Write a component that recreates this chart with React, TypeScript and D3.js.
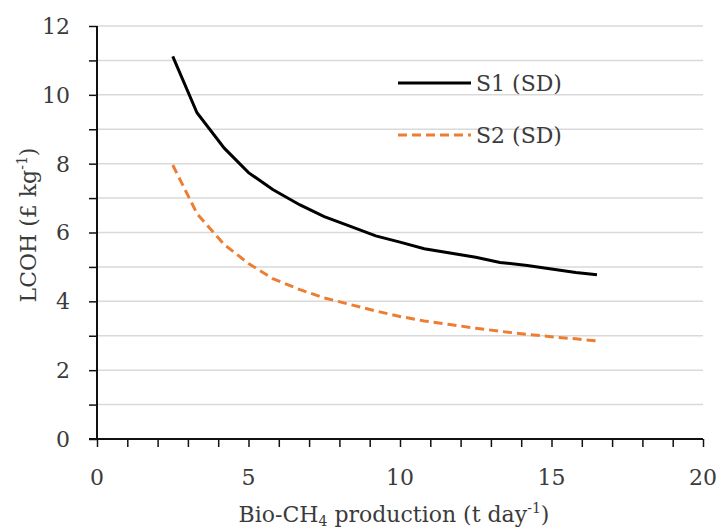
import React, { useEffect, useRef } from 'react';
import * as d3 from 'd3';

// Bio-CH4 production (t/day)
const production = [2.5, 3.3, 4.2, 5.0, 5.8, 6.7, 7.5, 8.3, 9.2, 10.0, 10.8, 11.7, 12.5, 13.3, 14.2, 15.0, 15.8, 16.5];
// LCOH (GBP/kg)
const s1Values = [11.12, 9.48, 8.45, 7.74, 7.25, 6.8, 6.46, 6.2, 5.9, 5.72, 5.53, 5.4, 5.28, 5.13, 5.04, 4.94, 4.84, 4.77];
const s2Values = [7.96, 6.55, 5.65, 5.1, 4.66, 4.34, 4.1, 3.92, 3.72, 3.56, 3.43, 3.32, 3.22, 3.13, 3.04, 2.97, 2.91, 2.85];

const seriesNames = ['S1 (SD)', 'S2 (SD)'];
const xTicks = [0, 5, 10, 15, 20];
const yTicks = [0, 2, 4, 6, 8, 10, 12];

const FONT = '"DejaVu Serif", serif';
const TEXT = '#3b3b3b';
const FS = 22;

const App = () => {
    const svgRef = useRef<SVGSVGElement>(null);

    useEffect(() => {
        const svgWidth = 720;
        const svgHeight = 531;
        const margin = { top: 26, right: 17, bottom: 92, left: 97 };
        const width = svgWidth - margin.left - margin.right;
        const height = svgHeight - margin.top - margin.bottom;

        const svg = d3.select(svgRef.current)
            .attr('width', svgWidth)
            .attr('height', svgHeight);
        svg.selectAll('*').remove();

        const x = d3.scaleLinear().domain([0, 20]).range([0, width]);
        const y = d3.scaleLinear().domain([0, 12]).range([height, 0]);

        const chart = svg.append('g')
            .attr('transform', `translate(${margin.left}, ${margin.top})`);

        // gridlines every unit
        chart.append('g')
            .selectAll('line')
            .data(d3.range(1, 13))
            .enter()
            .append('line')
            .attr('x1', 0)
            .attr('x2', width)
            .attr('y1', d => y(d))
            .attr('y2', d => y(d))
            .attr('stroke', '#d9d9d9')
            .attr('stroke-width', 1.5);

        // y axis
        const yAxis = chart.append('g')
            .call(d3.axisLeft(y).tickValues(d3.range(0, 13)).tickSize(8).tickFormat(() => ''));
        yAxis.select('.domain').attr('stroke', '#111').attr('stroke-width', 2).attr('d', `M0,${height}V0`);
        yAxis.selectAll('.tick line').attr('stroke', '#111').attr('stroke-width', 1.5);

        // x axis
        const xAxis = chart.append('g')
            .attr('transform', `translate(0, ${height})`)
            .call(d3.axisBottom(x).tickValues(d3.range(0, 21)).tickSize(8).tickFormat(() => ''));
        xAxis.select('.domain').attr('stroke', '#111').attr('stroke-width', 2).attr('d', `M-8,0H${width}`);
        xAxis.selectAll('.tick line').attr('stroke', '#111').attr('stroke-width', 1.5);

        // tick labels
        chart.append('g')
            .selectAll('text')
            .data(yTicks)
            .enter()
            .append('text')
            .attr('x', -27)
            .attr('y', d => y(d))
            .attr('dy', '0.36em')
            .attr('text-anchor', 'end')
            .attr('font-family', FONT)
            .attr('font-size', FS)
            .attr('fill', TEXT)
            .text(d => d);

        chart.append('g')
            .selectAll('text')
            .data(xTicks)
            .enter()
            .append('text')
            .attr('x', d => x(d))
            .attr('y', height + 46)
            .attr('text-anchor', 'middle')
            .attr('font-family', FONT)
            .attr('font-size', FS)
            .attr('fill', TEXT)
            .text(d => d);

        // lines
        const line = d3.line<number>()
            .x((_, i) => x(production[i]))
            .y(d => y(d));

        chart.append('path')
            .datum(s1Values)
            .attr('d', line)
            .attr('fill', 'none')
            .attr('stroke', '#000')
            .attr('stroke-width', 3);

        chart.append('path')
            .datum(s2Values)
            .attr('d', line)
            .attr('fill', 'none')
            .attr('stroke', '#ed7d31')
            .attr('stroke-width', 3)
            .attr('stroke-dasharray', '9,5');

        // legend
        const legend = svg.append('g');
        seriesNames.forEach((name, i) => {
            const ly = 83 + i * 52;
            legend.append('line')
                .attr('x1', 398).attr('x2', 471)
                .attr('y1', ly).attr('y2', ly)
                .attr('stroke', i === 0 ? '#000' : '#ed7d31')
                .attr('stroke-width', 3)
                .attr('stroke-dasharray', i === 0 ? null : '9,5');
            legend.append('text')
                .attr('x', 476)
                .attr('y', ly)
                .attr('dy', '0.36em')
                .attr('font-family', FONT)
                .attr('font-size', FS)
                .attr('fill', TEXT)
                .text(name);
        });

        // axis titles
        const xTitle = svg.append('text')
            .attr('x', 394)
            .attr('y', 522)
            .attr('text-anchor', 'middle')
            .attr('font-family', FONT)
            .attr('font-size', FS)
            .attr('fill', TEXT);
        xTitle.append('tspan').text('Bio-CH');
        xTitle.append('tspan').attr('font-size', 14).attr('dy', 4).text('4');
        xTitle.append('tspan').attr('dy', -4).text(' production (t day');
        xTitle.append('tspan').attr('font-size', 14).attr('dy', -9).text('-1');
        xTitle.append('tspan').attr('dy', 9).text(')');

        const yTitle = svg.append('text')
            .attr('transform', 'translate(36, 225) rotate(-90)')
            .attr('text-anchor', 'middle')
            .attr('font-family', FONT)
            .attr('font-size', FS)
            .attr('fill', TEXT);
        yTitle.append('tspan').text('LCOH (£ kg');
        yTitle.append('tspan').attr('font-size', 14).attr('dy', -9).text('-1');
        yTitle.append('tspan').attr('dy', 9).text(')');
    }, []);

    return (
        <svg ref={svgRef} style={{ position: 'absolute', left: 0, top: 0, background: '#fff' }}></svg>
    );
};

export default App;
